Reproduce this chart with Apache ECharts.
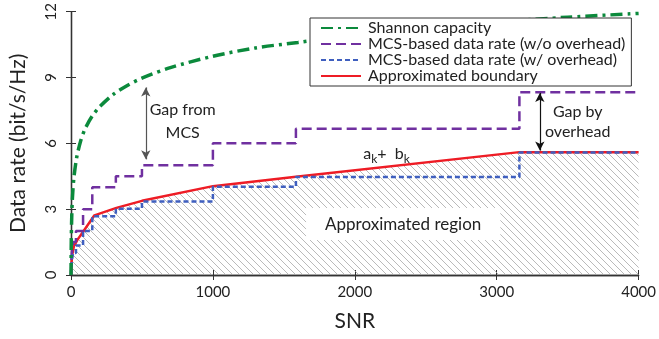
<!DOCTYPE html>
<html>
<head>
<meta charset="utf-8">
<script src="https://cdn.jsdelivr.net/npm/echarts@6/dist/echarts.min.js"></script>
<style>
  html, body { margin: 0; padding: 0; background: #fff; }
  #chart { width: 659px; height: 339px; }
</style>
</head>
<body>
<div id="chart"></div>
<script>
  // Shannon capacity
  var snrShannon = [0, 2, 5, 10, 20, 40, 70, 100, 150, 200, 300, 400, 500, 700, 1000, 1300, 1600, 2000, 2500, 3000, 3500, 4000]
  var rateShannon = [0, 1.6, 2.6, 3.5, 4.4, 5.35, 6.15, 6.67, 7.25, 7.65, 8.24, 8.65, 8.97, 9.45, 9.97, 10.35, 10.6, 10.95, 11.27, 11.53, 11.75, 11.92]
  // MCS step thresholds (SNR) and rates
  var snrSteps = [0, 2, 6, 15, 35, 85, 150, 316, 500, 1000, 1585, 3160, 4000]
  var rateNoOverhead = [0, 0.5, 1, 1.5, 2, 3, 4, 4.5, 5, 6, 6.67, 8.33, 8.33]
  var rateOverhead = [0, 0.34, 0.67, 1.0, 1.34, 2.01, 2.68, 3.02, 3.35, 4.02, 4.47, 5.58, 5.58]
  // approximated boundary corners
  var snrBoundary = [0, 3, 8, 20, 45, 90, 165, 320, 500, 1000, 1585, 3160, 4000]
  var rateBoundary = [0, 0.5, 0.9, 1.3, 1.6, 2.02, 2.72, 3.06, 3.38, 4.05, 4.48, 5.6, 5.6]
  var seriesNames = ['Shannon capacity', 'MCS-based data rate (w/o overhead)', 'MCS-based data rate (w/ overhead)', 'Approximated boundary']

  var FONT = 'Lato'

  function pairs(xs, ys) {
    var out = []
    for (var i = 0; i < xs.length; i++) out.push([xs[i], ys[i]])
    return out
  }

  // hatch pattern for the region below the boundary
  var hatch = document.createElement('canvas')
  hatch.width = 7
  hatch.height = 7
  var hc = hatch.getContext('2d')
  hc.strokeStyle = '#a8a8a8'
  hc.lineWidth = 0.8
  hc.beginPath()
  hc.moveTo(-1, -1); hc.lineTo(8, 8)
  hc.moveTo(-1, 6); hc.lineTo(1, 8)
  hc.moveTo(6, -1); hc.lineTo(8, 1)
  hc.stroke()

  var chart = echarts.init(document.getElementById('chart'))

  var axisLine = { show: true, lineStyle: { color: '#333', width: 1.3 } }
  var tickIn = { show: true, inside: true, length: 5, lineStyle: { color: '#333' } }
  var plainNum = function (v) { return String(v) }

  var options = {
    animation: false,
    grid: { left: 70, right: 20, top: 6, bottom: 64 },
    legend: {
      data: seriesNames,
      orient: 'vertical',
      left: 310,
      top: 18,
      z: 20,
      itemWidth: 40,
      itemHeight: 16,
      itemGap: 0,
      padding: [2, 6, 2, 10],
      backgroundColor: '#fff',
      borderColor: '#333',
      borderWidth: 1,
      borderRadius: 0,
      itemStyle: { color: 'transparent', borderWidth: 0 },
      textStyle: { fontFamily: FONT, fontSize: 16, color: '#222', lineHeight: 16, padding: [0, 0, 0, 2] }
    },
    xAxis: [{
      type: 'value', min: 0, max: 4000, interval: 1000,
      name: 'SNR', nameLocation: 'middle', nameGap: 36,
      nameTextStyle: { fontFamily: FONT, fontSize: 21, color: '#222' },
      axisLine: axisLine, axisTick: tickIn,
      axisLabel: { fontFamily: FONT, fontSize: 15, color: '#222', margin: 10, formatter: plainNum },
      splitLine: { show: false }
    }, {
      type: 'value', min: 0, max: 4000, interval: 1000, position: 'top',
      axisLine: axisLine, axisTick: tickIn, axisLabel: { show: false }, splitLine: { show: false }
    }],
    yAxis: [{
      type: 'value', min: 0, max: 12, interval: 3,
      name: 'Data rate (bit/s/Hz)', nameLocation: 'middle', nameGap: 42,
      nameTextStyle: { fontFamily: FONT, fontSize: 21, color: '#222' },
      axisLine: axisLine, axisTick: tickIn,
      axisLabel: { fontFamily: FONT, fontSize: 15, color: '#222', rotate: 90, margin: 12, formatter: plainNum },
      splitLine: { show: false }
    }, {
      type: 'value', min: 0, max: 12, interval: 3, position: 'right',
      axisLine: axisLine, axisTick: tickIn, axisLabel: { show: false }, splitLine: { show: false }
    }],
    series: [{
      name: seriesNames[0],
      type: 'line',
      smooth: 0.3,
      symbol: 'none',
      z: 4,
      data: pairs(snrShannon, rateShannon),
      lineStyle: { color: '#0b8a3c', width: 3.5, type: [12, 5, 3, 5] },
      itemStyle: { color: '#0b8a3c' },
      markLine: {
        silent: true,
        symbol: ['arrow', 'arrow'],
        symbolSize: [7, 9],
        label: { show: false },
        data: [
          [{ coord: [527, 8.55], lineStyle: { color: '#555', width: 1.2, type: 'solid' } }, { coord: [527, 5.27] }],
          [{ coord: [3304, 8.3], lineStyle: { color: '#111', width: 1.2, type: 'solid' } }, { coord: [3304, 5.67] }]
        ]
      }
    }, {
      name: seriesNames[1],
      type: 'line',
      step: 'end',
      symbol: 'none',
      z: 3,
      data: pairs(snrSteps, rateNoOverhead),
      lineStyle: { color: '#7030a0', width: 2.5, type: [10, 5] },
      itemStyle: { color: '#7030a0' }
    }, {
      name: seriesNames[2],
      type: 'line',
      step: 'end',
      symbol: 'none',
      z: 3,
      data: pairs(snrSteps, rateOverhead),
      lineStyle: { color: '#3f5fbf', width: 2.5, type: [5, 3] },
      itemStyle: { color: '#3f5fbf' }
    }, {
      name: seriesNames[3],
      type: 'line',
      symbol: 'none',
      z: 2,
      data: pairs(snrBoundary, rateBoundary),
      lineStyle: { color: '#ee1c25', width: 2.5 },
      itemStyle: { color: '#ee1c25' },
      areaStyle: { color: { image: hatch, repeat: 'repeat' }, opacity: 1 }
    }]
  }

  chart.setOption(options)

  function px(x, y) {
    return chart.convertToPixel({ xAxisIndex: 0, yAxisIndex: 0 }, [x, y])
  }

  var pGap1 = px(787, 6.99)
  var pGap2 = px(3571, 6.96)
  var pAk = px(2060, 5.52)
  var pReg = px(2341, 2.32)

  chart.setOption({
    graphic: [{
      type: 'text', z: 10, x: pGap1[0], y: pGap1[1],
      style: { text: 'Gap from\nMCS', font: '16px ' + FONT, fill: '#222', align: 'center', verticalAlign: 'middle', lineHeight: 23 }
    }, {
      type: 'text', z: 10, x: pGap2[0], y: pGap2[1],
      style: { text: 'Gap by\noverhead', font: '16px ' + FONT, fill: '#222', align: 'center', verticalAlign: 'middle', lineHeight: 20 }
    }, {
      type: 'text', z: 10, x: pAk[0], y: pAk[1],
      style: {
        text: '{n|a}{s|k}{n|+  b}{s|k}', align: 'left', verticalAlign: 'middle',
        rich: {
          n: { fontFamily: FONT, fontSize: 16, fill: '#222', color: '#222' },
          s: { fontFamily: FONT, fontSize: 12, fill: '#222', color: '#222', padding: [10, 0, 0, 0] }
        }
      }
    }, {
      type: 'text', z: 10, x: pReg[0], y: pReg[1],
      style: {
        text: 'Approximated region', font: '17px ' + FONT, fill: '#222', align: 'center', verticalAlign: 'middle',
        backgroundColor: '#fff', padding: [8, 19, 7, 19]
      }
    }]
  })

  window.addEventListener('resize', function () { chart.resize() })
</script>
</body>
</html>
